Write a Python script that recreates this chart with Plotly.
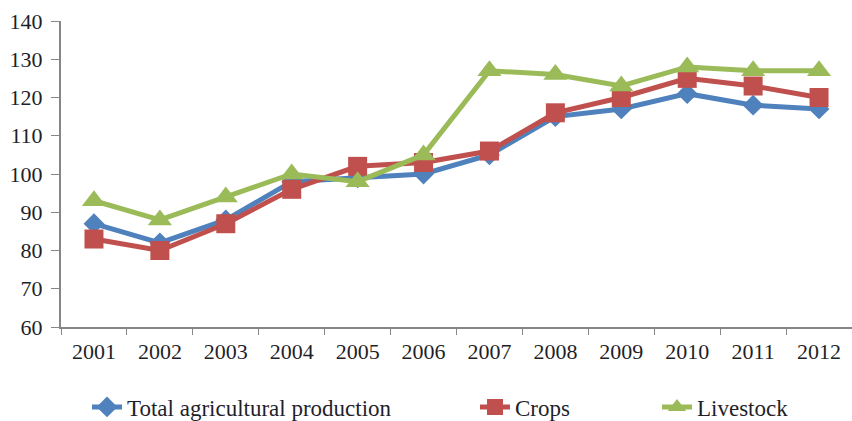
import plotly.graph_objects as go

years = ["2001", "2002", "2003", "2004", "2005", "2006", "2007", "2008", "2009", "2010", "2011", "2012"]
total = [87, 82, 88, 98, 99, 100, 105, 115, 117, 121, 118, 117]
crops = [83, 80, 87, 96, 102, 103, 106, 116, 120, 125, 123, 120]
livestock = [93, 88, 94, 100, 98, 105, 127, 126, 123, 128, 127, 127]

FONT = dict(family="Liberation Serif, Times New Roman, serif", size=22, color="#1f1f2a")
LFONT = dict(family="Liberation Serif, Times New Roman, serif", size=23, color="#1f1f2a")

fig = go.Figure()
fig.add_trace(go.Scatter(x=years, y=total, name="Total agricultural production", mode="lines+markers",
                         line=dict(color="#4F81BD", width=5), legend="legend",
                         marker=dict(symbol="diamond", size=16, color="#4F81BD")))
fig.add_trace(go.Scatter(x=years, y=crops, name="Crops", mode="lines+markers",
                         line=dict(color="#C0504D", width=5), legend="legend2",
                         marker=dict(symbol="square", size=19, color="#C0504D")))
fig.add_trace(go.Scatter(x=years, y=livestock, name="Livestock", mode="lines+markers",
                         line=dict(color="#9BBB59", width=5), legend="legend3",
                         marker=dict(symbol="triangle-up", size=21, color="#9BBB59")))

def leg(xpx):
    return dict(orientation="h", xref="container", yref="container",
                x=xpx / 852, xanchor="left", y=1 - 407 / 421, yanchor="middle",
                font=LFONT, bgcolor="rgba(0,0,0,0)")

fig.update_layout(
    width=852, height=421,
    margin=dict(l=61, r=0, t=21, b=94),
    paper_bgcolor="white", plot_bgcolor="white",
    font=FONT,
    showlegend=True,
    legend=leg(87), legend2=leg(475), legend3=leg(657),
)
fig.update_xaxes(type="category", range=[-0.5, 11.5], tickson="boundaries", ticks="outside",
                 ticklen=6, tickcolor="#868686", showline=True, linecolor="#868686", linewidth=2,
                 showgrid=False, zeroline=False, tickfont=FONT, ticklabelstandoff=4)
fig.update_yaxes(range=[60, 140], dtick=10, ticks="outside", ticklen=8, tickcolor="#868686",
                 showline=True, linecolor="#868686", linewidth=2, showgrid=False, zeroline=False,
                 tickfont=FONT, ticklabelstandoff=4)

fig.write_html("out.html")
